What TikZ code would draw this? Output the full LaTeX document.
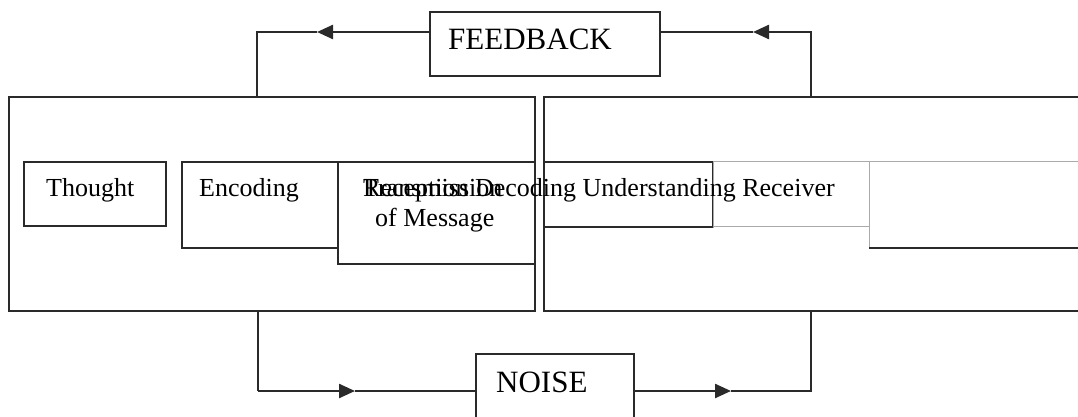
\documentclass[tikz,border=0pt]{standalone}
\usepackage{fontspec}
\setmainfont{Liberation Serif}
\usetikzlibrary{arrows.meta}
\definecolor{ink}{HTML}{2A2A2A}
\definecolor{lite}{HTML}{AAAAAA}
\begin{document}
\begin{tikzpicture}[x=1pt,y=-1pt,
  box/.style={draw=ink, line width=1.6pt, inner sep=0pt, anchor=north west},
  litebox/.style={draw=lite, line width=1.1pt, inner sep=0pt, anchor=north west},
  txt/.style={anchor=base west, inner sep=0pt, font=\fontsize{26}{30}\selectfont, text=black},
  bigtxt/.style={anchor=base west, inner sep=0pt, font=\fontsize{31}{36}\selectfont, text=black},
  wire/.style={draw=ink, line width=1.6pt},
  arr/.style={draw=ink, line width=2.4pt, -{Triangle[length=16pt,width=14pt]}}
]
\useasboundingbox (0,0) rectangle (1078,417);
\clip (0,0) rectangle (1078,417);

% big boxes
\node[box, minimum width=526, minimum height=214] (L) at (8,96) {};
\node[box, minimum width=560, minimum height=214] (R) at (543,96) {};

% left inner boxes
\node[box, minimum width=142, minimum height=64] (thought) at (23,161) {};
\node[box, minimum width=156, minimum height=86] (enc) at (181,161) {};
\node[box, minimum width=197, minimum height=102] (trans) at (337,161) {};

% right inner boxes
\node[litebox, minimum width=157, minimum height=65] (und) at (712,161) {};
\node[litebox, minimum width=230, minimum height=86] (recv) at (869,161) {};
\draw[wire] (recv.south west) -- (recv.south east);
\node[box, minimum width=169, minimum height=65] (dec) at (543,161) {};
\draw[draw=lite, line width=1.1pt] (dec.north east) -- (dec.south east);

% texts
\node[txt] (t1) at (46,196) {Thought};
\node[txt] (t2) at (199,196) {Encoding};
\node[txt] (t3) at (363,196) {Transmission};
\node[txt] (t4) at (375,226) {of Message};
\node[txt] (t5) at (363,196) {Reception Decoding Understanding Receiver};

% feedback
\node[box, minimum width=230, minimum height=64] (fb) at (429,11) {};
\node[bigtxt] (fbt) at (448,50) {FEEDBACK};
\coordinate (fa) at (317,32);
\coordinate (fl) at (257,32);
\coordinate (fr) at (811,32);
\coordinate (fra) at (753,32);
\draw[arr] (fb.west |- fa) -- (fa);
\draw[wire] (fa) -- (fl) -- (fl |- L.north);
\draw[arr] (fr |- R.north) -- (fr) -- (fra);
\draw[wire] (fra) -- (fb.east |- fra);

% noise
\node[box, minimum width=158, minimum height=90] (nz) at (475,353) {};
\node[bigtxt] (nzt) at (496,392) {NOISE};
\coordinate (nl) at (258,391);
\coordinate (na) at (355,391);
\coordinate (nr) at (811,391);
\coordinate (nra) at (731,391);
\draw[wire] (nl |- L.south) -- (nl);
\draw[arr] (nl) -- (na);
\draw[wire] (na) -- (nz.west |- na);
\draw[arr] (nz.east |- nra) -- (nra);
\draw[wire] (nra) -- (nr) -- (nr |- R.south);
\end{tikzpicture}
\end{document}
